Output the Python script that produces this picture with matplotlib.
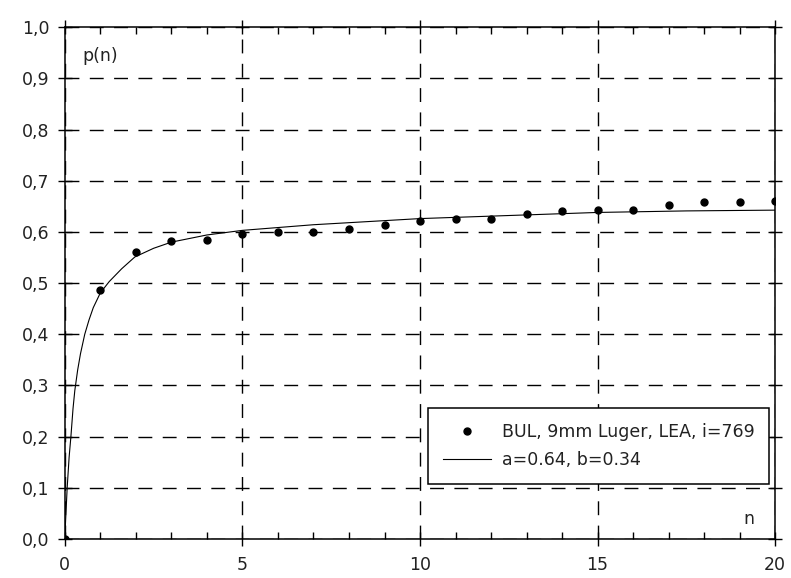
import matplotlib
matplotlib.use("Agg")
from matplotlib import pyplot as plt
from matplotlib.ticker import MultipleLocator, FuncFormatter

# measured points
n_points = [0, 1, 2, 3, 4, 5, 6, 7, 8, 9, 10,
            11, 12, 13, 14, 15, 16, 17, 18, 19, 20]
p_points = [0.0, 0.486, 0.561, 0.582, 0.585, 0.596, 0.600, 0.600, 0.606, 0.613, 0.621,
            0.625, 0.625, 0.634, 0.640, 0.642, 0.642, 0.652, 0.658, 0.658, 0.661]

# fitted curve
n_fit = [0, 0.02, 0.065, 0.12, 0.17, 0.23, 0.28, 0.36, 0.44, 0.56, 0.68, 0.8, 1.0, 1.25,
         1.6, 1.97, 2.5, 3.0, 4, 5, 7, 10, 12.5, 15, 17.5, 20]
p_fit = [0, 0.035, 0.1, 0.16, 0.2, 0.255, 0.29, 0.33, 0.362, 0.4, 0.428, 0.452, 0.481, 0.503,
         0.528, 0.551, 0.568, 0.580, 0.594, 0.603, 0.614, 0.626, 0.632, 0.638, 0.641, 0.6425]

label_points = 'BUL, 9mm Luger, LEA, i=769'
label_fit = 'a=0.64, b=0.34'

plt.rcParams["font.family"] = ['DejaVu Sans']
plt.rcParams["font.size"] = 12.5

fig = plt.figure(figsize=(7.91, 5.78), dpi=100)
ax = fig.add_axes([0.082, 0.0675, 0.898, 0.8855])

ax.grid(True, which='major', color='black', linestyle=(0, (10, 7.5)), linewidth=1.0)
ax.set_axisbelow(True)

ax.plot(n_fit, p_fit, color='black', linewidth=0.8, label=label_fit, zorder=3)
ax.plot(n_points, p_points, linestyle='none', marker='o', markersize=5,
        color='black', label=label_points, zorder=4)

ax.set_xlim(0, 20)
ax.set_ylim(0, 1.0)
ax.xaxis.set_major_locator(MultipleLocator(5))
ax.xaxis.set_minor_locator(MultipleLocator(1))
ax.yaxis.set_major_locator(MultipleLocator(0.1))
ax.yaxis.set_major_formatter(FuncFormatter(lambda v, pos: f'{v:.1f}'.replace('.', ',')))

for s in ax.spines.values():
    s.set_linewidth(1.1)

ax.tick_params(axis='both', which='major', direction='inout', length=10, width=1.0,
               top=True, right=True, labelsize=12.5, labelcolor='#222222')
ax.tick_params(axis='x', which='major', pad=7)
ax.tick_params(axis='y', which='major', pad=6)
ax.tick_params(axis='x', which='minor', direction='in', length=5, width=1.0, top=True)

ax.text(0.025, 0.943, 'p(n)', transform=ax.transAxes, fontsize=12.5,
        va='center', ha='left', color='#222222')
ax.text(0.955, 0.04, 'n', transform=ax.transAxes, fontsize=12.5,
        va='center', ha='left', color='#222222')

handles, labels = ax.get_legend_handles_labels()
leg = ax.legend(handles[::-1], labels[::-1], loc='lower right',
                bbox_to_anchor=(0.9915, 0.107), borderaxespad=0,
                fancybox=False, framealpha=1, edgecolor='black',
                handlelength=2.8, handletextpad=0.6, labelspacing=0.6,
                borderpad=0.85, fontsize=12.5)
leg.get_frame().set_linewidth(1.1)
for t in leg.get_texts():
    t.set_color('#222222')

fig.savefig('out.png', dpi=100)
plt.close()
